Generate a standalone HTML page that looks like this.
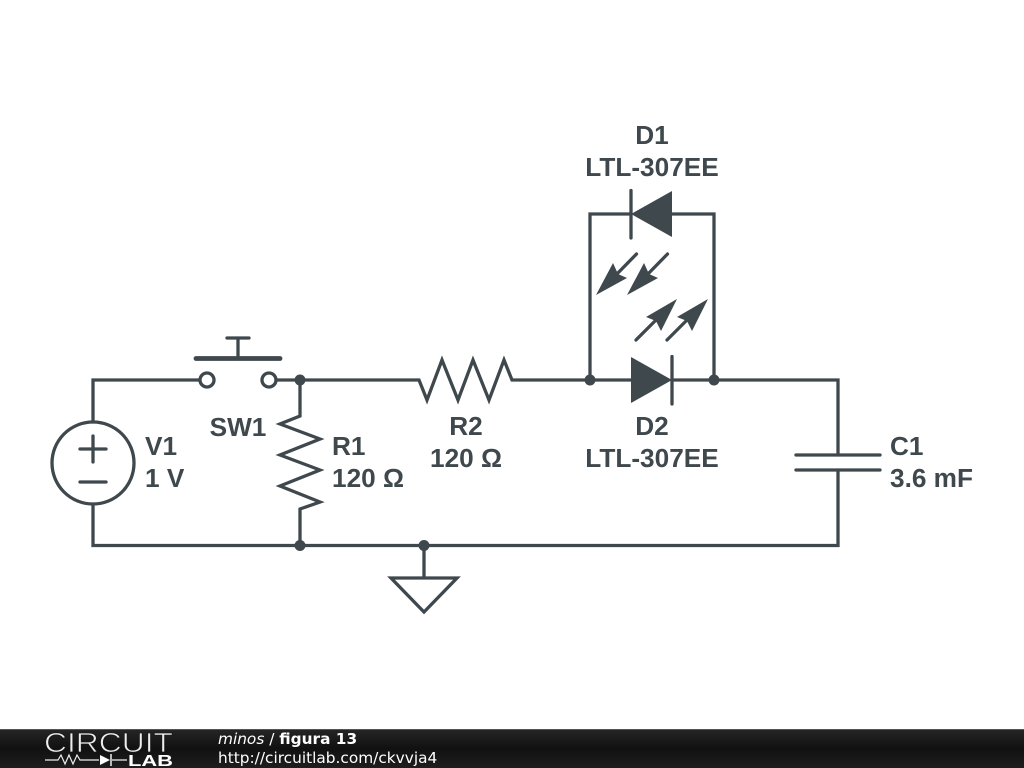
<!DOCTYPE html>
<html><head><meta charset="utf-8"><title>figura 13</title>
<style>
html,body{margin:0;padding:0;background:#fff;width:1024px;height:768px;overflow:hidden}
svg{display:block}
.l{font-family:"Liberation Sans",sans-serif;font-weight:bold;font-size:26.2px;fill:#3f484d}
.w{fill:none;stroke:#3f484d;stroke-width:3.3;stroke-linejoin:miter;stroke-linecap:round}
.f{font-family:"DejaVu Sans",sans-serif;font-size:15.35px;fill:#fff}
</style></head><body>
<svg width="1024" height="768" viewBox="0 0 1024 768" xmlns="http://www.w3.org/2000/svg">
<defs><linearGradient id="g" x1="0" y1="0" x2="0" y2="1"><stop offset="0" stop-color="#262626"/><stop offset=".5" stop-color="#111"/><stop offset="1" stop-color="#1e1e1e"/></linearGradient></defs>
<rect width="1024" height="768" fill="#fff"/>
<!-- wires -->
<path class="w" d="M199,380H93V422M93,504V545.5H838V470M838,455V380H672M631,380H512L504,360L489,400L473,360L458,400L442,360L427,400L419,380H300M276,380H300V416L280,424L320,439L280,455L320,470L280,486L320,502L300,509V545.5"/>
<path class="w" d="M590,380V214H631M672,214H714V380"/>
<!-- source -->
<circle class="w" cx="93" cy="463" r="41"/>
<path class="w" d="M80,449H106M93,436V462M80,482H106"/>
<!-- switch -->
<circle class="w" cx="207" cy="380" r="7"/>
<circle class="w" cx="269" cy="380" r="7"/>
<path class="w" d="M196,358.5H280" style="stroke-width:4.8"/>
<path class="w" d="M238,358V338M227,338H249"/>
<!-- diodes -->
<path fill="#3f484d" d="M631,357L672,380L631,403Z"/>
<path class="w" d="M672,356.5V404"/>
<path fill="#3f484d" d="M672,191L631,214L672,237Z"/>
<path class="w" d="M631,190.5V238"/>
<!-- LED arrows -->
<g><path class="w" d="M636.5,254L614,277"/><path fill="#3f484d" d="M596,295L613,263L618,274L627,278Z"/></g>
<g transform="translate(31,0)"><path class="w" d="M636.5,254L614,277"/><path fill="#3f484d" d="M596,295L613,263L618,274L627,278Z"/></g>
<g><path class="w" d="M636,340L659,317"/><path fill="#3f484d" d="M677,299L646,317L656,321L661,331Z"/></g>
<g transform="translate(31,0)"><path class="w" d="M636,340L659,317"/><path fill="#3f484d" d="M677,299L646,317L656,321L661,331Z"/></g>
<!-- capacitor -->
<path class="w" d="M796,455H880M796,470H880"/>
<!-- ground -->
<path class="w" d="M424,545.5V578M391,578H457L424,612Z"/>
<!-- dots -->
<g fill="#3f484d"><circle cx="300" cy="380" r="5.5"/><circle cx="590" cy="380" r="5.5"/><circle cx="714" cy="380" r="5.5"/><circle cx="300" cy="545.5" r="5.5"/><circle cx="424" cy="545.5" r="5.5"/></g>
<!-- labels -->
<text class="l" x="652" y="144" text-anchor="middle">D1</text>
<text class="l" x="652" y="176" text-anchor="middle">LTL-307EE</text>
<text class="l" x="652" y="435" text-anchor="middle">D2</text>
<text class="l" x="652" y="467" text-anchor="middle">LTL-307EE</text>
<text class="l" x="238" y="436" text-anchor="middle">SW1</text>
<text class="l" x="145" y="455">V1</text>
<text class="l" x="145" y="487">1 V</text>
<text class="l" x="332" y="455">R1</text>
<text class="l" x="332" y="487">120 Ω</text>
<text class="l" x="466" y="435" text-anchor="middle">R2</text>
<text class="l" x="466" y="467" text-anchor="middle">120 Ω</text>
<text class="l" x="890" y="455">C1</text>
<text class="l" x="890" y="487">3.6 mF</text>
<!-- footer -->
<rect y="729" width="1024" height="39" fill="url(#g)"/>
<rect y="729" width="1024" height="1" fill="#555"/>
<text x="44" y="752" font-family="'Liberation Sans',sans-serif" font-size="27.5" fill="#eee" stroke="#181818" stroke-width=".8" textLength="129" lengthAdjust="spacingAndGlyphs">CIRCUIT</text>
<path d="M45,760H58L61,755L65,764L69,755L73,764L77,755L80,760H99M112,760H127" fill="none" stroke="#eee" stroke-width="1.2"/>
<path d="M100,755L110,760L100,765Z" fill="#fff"/>
<path d="M111,754V766" stroke="#fff" stroke-width="1.4"/>
<text x="128" y="766" font-family="'Liberation Sans',sans-serif" font-weight="bold" font-size="16" fill="#fff" textLength="45" lengthAdjust="spacingAndGlyphs">LAB</text>
<text class="f" x="218" y="744"><tspan font-style="italic">minos</tspan> / <tspan font-weight="bold">figura 13</tspan></text>
<text class="f" x="218" y="763">http://circuitlab.com/ckvvja4</text>
</svg>
</body></html>
